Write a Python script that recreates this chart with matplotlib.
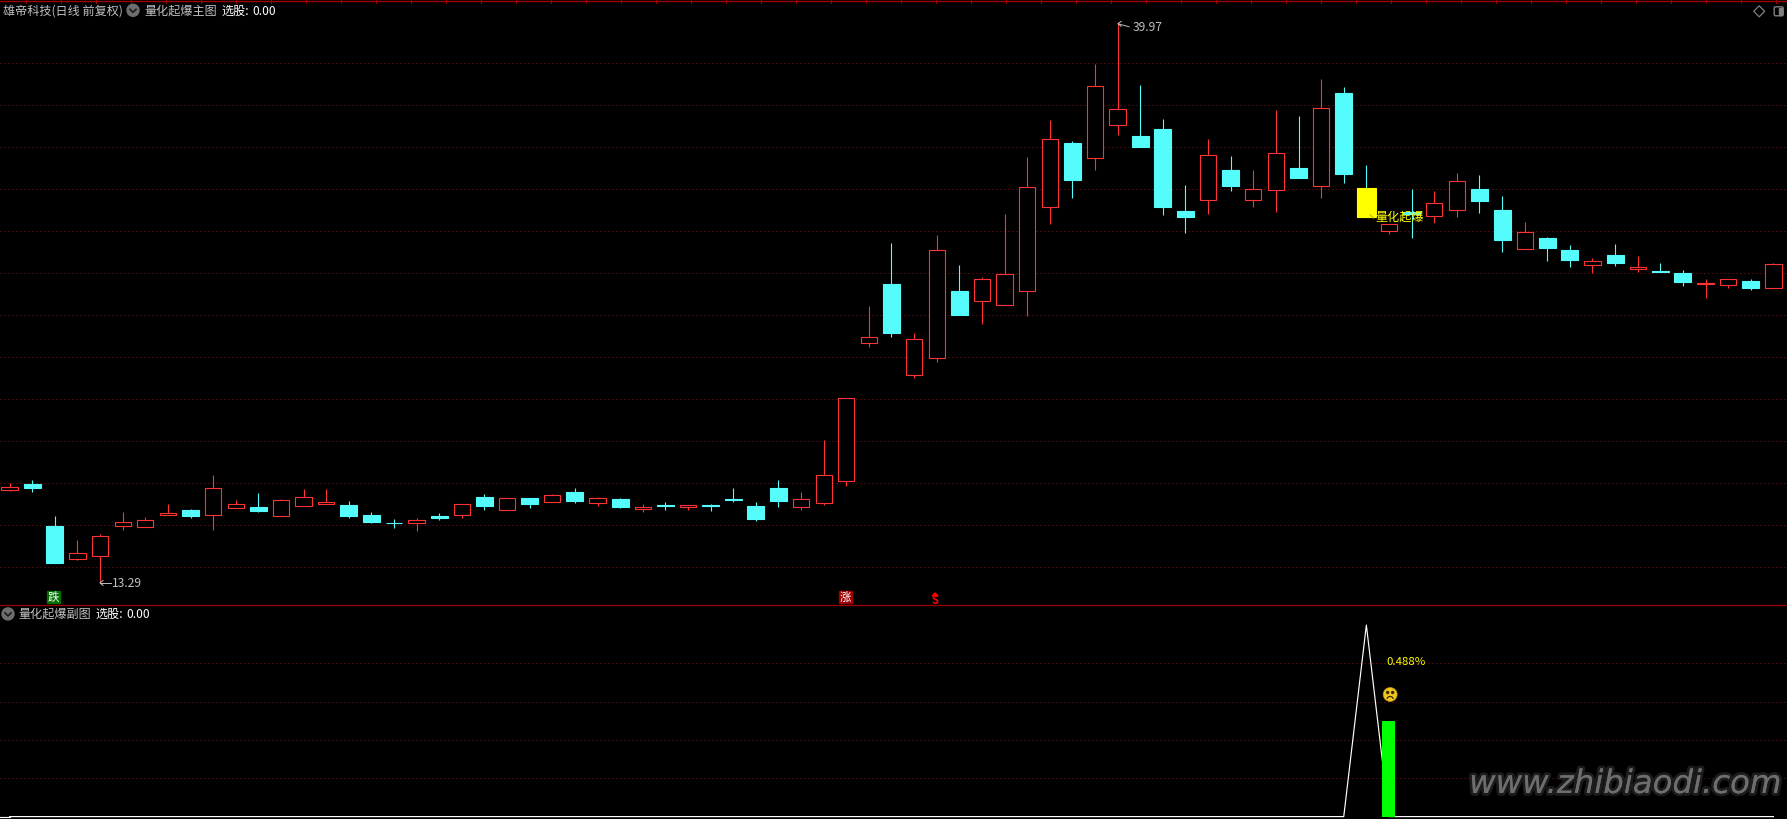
"""Recreate the TDX style candlestick screenshot with its sub panel."""
import matplotlib

matplotlib.use("Agg")
import matplotlib.pyplot as plt
import matplotlib.patheffects as pe
from matplotlib.patches import Arc, Circle, FancyBboxPatch, Polygon, Rectangle

plt.rcParams["font.family"] = ["Noto Sans CJK SC", "DejaVu Sans"]

W, H = 1787, 819

highs = [18.00, 18.16, 16.44, 15.30, 15.57, 16.63, 16.40, 17.01, 16.78, 18.40,
         17.20, 17.54, 17.24, 17.73, 17.73, 17.16, 16.63, 16.30, 16.35, 16.59,
         17.00, 17.49, 17.30, 17.30, 17.49, 17.78, 17.35, 17.30, 17.01, 17.11,
         16.97, 17.01, 17.78, 17.11, 18.16, 17.59, 20.06, 22.05, 26.44, 29.43,
         25.14, 29.82, 28.40, 27.84, 30.82, 33.54, 35.30, 34.30, 37.97, 39.97,
         36.97, 35.35, 32.21, 34.39, 33.59, 32.92, 35.78, 35.49, 37.25, 36.87,
         33.16, 30.35, 32.01, 31.92, 32.78, 32.68, 31.68, 30.44, 29.73, 29.35,
         28.73, 29.40, 28.82, 28.49, 28.16, 27.73, 27.71, 27.73, 28.48]
body_tops = [17.81, 17.97, 15.97, 14.67, 15.48, 16.14, 16.24, 16.57, 16.73, 17.76,
             17.00, 16.87, 17.19, 17.33, 17.11, 16.97, 16.49, 16.11, 16.24, 16.44,
             17.00, 17.35, 17.30, 17.30, 17.43, 17.59, 17.29, 17.25, 16.87, 16.97,
             16.97, 16.97, 17.25, 16.92, 17.78, 17.24, 18.38, 22.05, 24.95, 27.49,
             24.86, 29.09, 27.16, 27.71, 27.95, 32.10, 34.38, 34.20, 36.90, 35.81,
             34.54, 34.87, 30.97, 33.62, 32.92, 32.00, 33.71, 33.01, 35.86, 36.59,
             32.06, 30.35, 30.92, 31.33, 32.38, 32.01, 31.01, 29.95, 29.68, 29.11,
             28.57, 28.87, 28.30, 28.11, 28.01, 27.52, 27.71, 27.63, 28.43]
body_bottoms = [17.69, 17.78, 14.21, 14.41, 14.55, 15.98, 15.93, 16.50, 16.46, 16.50,
                16.84, 16.68, 16.46, 16.93, 17.03, 16.44, 16.16, 16.10, 16.12, 16.35,
                16.50, 16.92, 16.74, 17.01, 17.12, 17.16, 17.08, 16.87, 16.78, 16.92,
                16.87, 16.92, 17.20, 16.30, 17.16, 16.87, 17.08, 18.12, 24.67, 25.17,
                23.17, 23.98, 26.01, 26.69, 26.50, 27.17, 31.17, 32.44, 33.46, 35.03,
                34.01, 31.16, 30.68, 31.46, 32.16, 31.46, 31.98, 32.54, 32.17, 32.73,
                30.68, 30.01, 30.82, 30.70, 31.03, 31.44, 29.59, 29.17, 29.20, 28.63,
                28.41, 28.49, 28.20, 28.06, 27.58, 27.50, 27.46, 27.30, 27.27]
lows = [17.63, 17.59, 14.21, 14.35, 13.29, 15.78, 15.93, 16.50, 16.35, 15.78,
        16.84, 16.63, 16.46, 16.93, 17.03, 16.35, 16.11, 15.87, 15.73, 16.25,
        16.35, 16.73, 16.74, 16.82, 17.12, 17.06, 16.92, 16.82, 16.63, 16.73,
        16.73, 16.68, 17.11, 16.20, 16.87, 16.73, 16.97, 17.87, 24.50, 24.98,
        23.01, 23.78, 26.01, 25.59, 26.50, 25.97, 30.35, 31.59, 32.92, 34.58,
        34.01, 30.78, 29.92, 30.82, 31.92, 31.16, 30.92, 32.54, 31.59, 32.30,
        30.68, 29.87, 29.68, 30.40, 30.68, 30.87, 29.01, 29.17, 28.59, 28.30,
        28.01, 28.35, 28.06, 28.06, 27.40, 26.82, 27.30, 27.20, 27.27]
# 1 = up day (hollow red), 0 = down day (filled cyan)
up_days = [1, 0, 0, 1, 1, 1, 1, 1, 0, 1, 1, 0, 1, 1, 1, 0, 0, 0, 1, 0,
           1, 0, 1, 0, 1, 0, 1, 0, 1, 0, 1, 0, 0, 0, 0, 1, 1, 1, 1, 0,
           1, 1, 0, 1, 1, 1, 1, 0, 1, 1, 0, 0, 0, 1, 0, 1, 1, 0, 1, 0,
           0, 1, 0, 1, 1, 0, 0, 1, 0, 0, 1, 0, 1, 0, 0, 1, 1, 0, 1]
signal_day = 60

grid_prices = [14, 16, 18, 20, 22, 24, 26, 28, 30, 32, 34, 36, 38]
sub_grid = [0.2, 0.4, 0.6, 0.8]
sub_line = [0.0] * 60 + [1.0] + [0.0] * 18
sub_bar_day = 61
sub_bar_value = 0.498

RED = "#FF3333"
CYAN = "#54FCFC"
YELLOW = "#FFFF00"
BORDER = "#A00000"
GRID = "#8A1010"
GRAY = "#C0C0C0"
X0, STEP = 9.6, 22.61
xlim = (-X0 / STEP, (W - X0) / STEP)
days = range(len(highs))


def panel(fig, top, bottom, ylim, ticks):
    ax = fig.add_axes([0, 1 - bottom / H, 1, (bottom - top) / H], facecolor="black")
    ax.set_xlim(xlim)
    ax.set_ylim(ylim)
    ax.set_xticks([])
    ax.set_yticks(ticks)
    ax.tick_params(length=0, labelleft=False)
    ax.grid(axis="y", color=GRID, lw=0.72, linestyle=(0, (1, 3)))
    ax.set_axisbelow(True)
    for spine in ax.spines.values():
        spine.set_visible(False)
    return ax


def price_at(y):
    return 41.014 - y / 21


def draw_candles(ax):
    for d in days:
        if d == signal_day:
            color, face, width = YELLOW, YELLOW, 0.84
            wick = CYAN
        elif up_days[d]:
            color, face, width = RED, "black", 0.72
            wick = RED
        else:
            color, face, width = CYAN, CYAN, 0.75
            wick = CYAN
        ax.plot([d, d], [lows[d], highs[d]], color=wick, lw=0.8, zorder=2,
                solid_capstyle="butt", snap=True)
        ax.bar(d, body_tops[d] - body_bottoms[d], bottom=body_bottoms[d], width=width,
               facecolor=face, edgecolor=color, lw=0.8, zorder=3)


def chevron_icon(over, x, y):
    over.add_patch(Circle((x, y), 6, color="#6E6E6E"))
    over.plot([x - 3, x, x + 3], [y - 1, y + 2, y - 1], color="#1A1A1A", lw=1.2)


def left_arrow(over, x_tip, y_tip, x_tail, y_tail):
    over.plot([x_tip, x_tail], [y_tip, y_tail], color=GRAY, lw=0.7)
    over.plot([x_tip + 3, x_tip, x_tip + 3], [y_tip - 2.5, y_tip, y_tip + 2.5], color=GRAY, lw=0.7)


def decorate(over):
    # separators and the small ticks of the top ruler
    over.plot([0, W], [1.5, 1.5], color=BORDER, lw=1.0)
    over.plot([0, W], [605.5, 605.5], color=BORDER, lw=0.9)
    for x in range(23, W, 35):
        over.plot([x + 3.3, x + 3.3], [0, 3], color=BORDER, lw=0.72)

    fs = 8.7
    over.text(3, 11, "雄帝科技(日线 前复权)", color=GRAY, fontsize=fs, va="center")
    chevron_icon(over, 133, 10.5)
    over.text(144, 11, "量化起爆主图", color=GRAY, fontsize=fs, va="center")
    over.text(221, 11, "选股:", color="white", fontsize=fs, va="center")
    over.text(252, 11, "0.00", color="white", fontsize=fs, va="center")
    chevron_icon(over, 8, 614)
    over.text(18, 614, "量化起爆副图", color=GRAY, fontsize=fs, va="center")
    over.text(95, 614, "选股:", color="white", fontsize=fs, va="center")
    over.text(126, 614, "0.00", color="white", fontsize=fs, va="center")

    # window buttons, top right
    over.add_patch(Polygon([(1759, 6), (1764.5, 11.5), (1759, 17), (1753.5, 11.5)],
                           closed=True, fill=False, ec="#808080", lw=0.9))
    over.add_patch(FancyBboxPatch((1774, 7), 9, 9, boxstyle="round,pad=0,rounding_size=1.5",
                                  fill=False, ec="#808080", lw=1.0))
    over.add_patch(Rectangle((1779, 8), 3, 7, color="#808080"))

    # high / low labels
    left_arrow(over, 100, 583, 111, 583)
    over.text(112, 583, "13.29", color=GRAY, fontsize=fs, va="center")
    left_arrow(over, 1118, 24, 1129, 27)
    over.text(1132, 27.5, "39.97", color=GRAY, fontsize=fs, va="center")

    # signal markers under the candles
    over.add_patch(Rectangle((47, 591), 13, 12.5, color="#007000"))
    over.text(53.5, 597, "跌", color="white", fontsize=8.3, ha="center", va="center")
    over.add_patch(Rectangle((839, 591), 13, 12.5, color="#A00000"))
    over.text(845.5, 597, "涨", color="white", fontsize=8.3, ha="center", va="center")
    over.add_patch(Polygon([(932, 596), (935, 593), (938, 596)], closed=True, color="#FF0000"))
    over.text(935, 600, "S", color="#FF0000", fontsize=8, ha="center", va="center", weight="bold")

    over.text(1375, 217, "量化起爆", color=YELLOW, fontsize=fs, va="center", zorder=6)
    over.plot([1370, 1373], [215, 218], color="#C8C800", lw=1.0, zorder=6)

    # sub panel labels
    over.text(1386.5, 662, "0.488%", color=YELLOW, fontsize=8.2, va="center")
    over.add_patch(Circle((1390, 694.5), 7, fc="#F2C81E", ec="#B08A10", lw=0.5))
    over.add_patch(Circle((1387.5, 692.5), 1, color="#3A2A00"))
    over.add_patch(Circle((1392.5, 692.5), 1, color="#3A2A00"))
    over.add_patch(Arc((1390, 699), 6, 5, theta1=180, theta2=360, color="#3A2A00", lw=0.9))

    over.text(1469, 793, "www.zhibiaodi.com", color="#6E6E6E", fontsize=23.3, style="italic",
              family="DejaVu Sans", va="baseline",
              path_effects=[pe.withStroke(linewidth=4, foreground="#1C1C1C"), pe.Normal()])


fig = plt.figure(figsize=((W + 0.2) / 100, (H + 0.2) / 100), dpi=100, facecolor="black")

ax_main = panel(fig, 3, 605, (price_at(605), price_at(3)), grid_prices)
draw_candles(ax_main)

ax_sub = panel(fig, 606, H, ((816.6 - H) / 191.5, (816.6 - 606) / 191.5), sub_grid)
ax_sub.plot([xlim[0], 0], [0, 0], color="white", lw=0.85, zorder=2)
ax_sub.plot(list(days), sub_line, color="white", lw=0.85, zorder=2)
ax_sub.bar(sub_bar_day, sub_bar_value, width=0.575, color="#00FF00", zorder=3)

over = fig.add_axes([0, 0, 1, 1], facecolor="none")
over.set_xlim(0, W)
over.set_ylim(H, 0)
over.axis("off")
decorate(over)

fig.savefig("out.png", dpi=100, facecolor="black")
plt.close(fig)
